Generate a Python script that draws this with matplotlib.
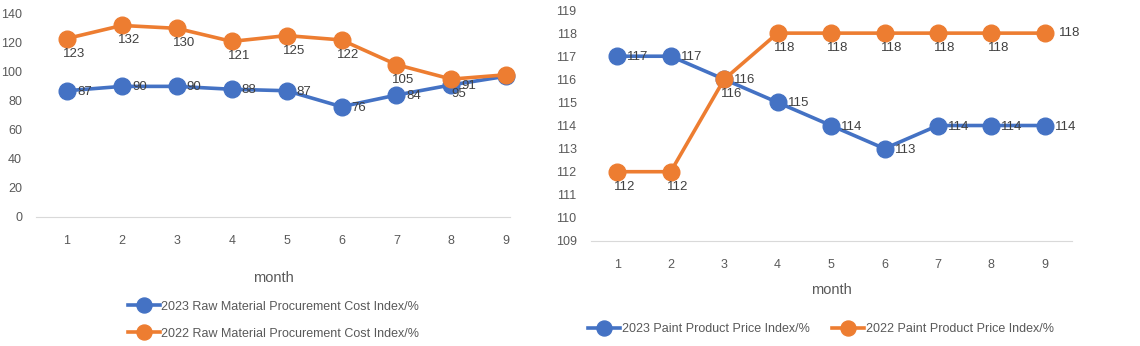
import matplotlib.pyplot as plt

plt.rcParams['font.family'] = ['Liberation Sans', 'DejaVu Sans']

months = [1, 2, 3, 4, 5, 6, 7, 8, 9]

# left chart: raw material procurement cost index
raw_2023 = [87, 90, 90, 88, 87, 76, 84, 91, 97]
raw_2022 = [123, 132, 130, 121, 125, 122, 105, 95, 98]

# right chart: paint product price index
paint_2023 = [117, 117, 116, 115, 114, 113, 114, 114, 114]
paint_2022 = [112, 112, 116, 118, 118, 118, 118, 118, 118]

blue = '#4472C4'
orange = '#ED7D31'
grey = '#595959'

fig = plt.figure(figsize=(11.4, 3.46), dpi=100)
ax1 = fig.add_axes([0.0316, 0.373, 0.4158, 0.587])
ax2 = fig.add_axes([0.518, 0.3035, 0.422, 0.6675])


def style(ax):
    for s in ['top', 'right', 'left']:
        ax.spines[s].set_visible(False)
    ax.spines['bottom'].set_color('#D9D9D9')
    ax.tick_params(length=0, labelsize=9, colors=grey)
    ax.tick_params(axis='y', pad=10)
    ax.tick_params(axis='x', pad=13)
    ax.set_xticks(months)
    ax.set_xlabel('month', fontsize=10.5, color=grey)


def draw(ax, y, color, label):
    return ax.plot(months, y, color=color, lw=2.6, marker='o', ms=12,
                   clip_on=False, label=label, zorder=3)[0]


# left
l1 = draw(ax1, raw_2023, blue, '2023 Raw Material Procurement Cost Index/%')
l2 = draw(ax1, raw_2022, orange, '2022 Raw Material Procurement Cost Index/%')
style(ax1)
ax1.set_xlim(0.435, 9.07)
ax1.set_ylim(0, 140)
ax1.set_yticks(range(0, 141, 20))
ax1.xaxis.labelpad = 17.5
for m, v in zip(months[:-1], raw_2023[:-1]):
    ax1.annotate(str(v), (m, v), xytext=(10, -1), textcoords='offset pixels',
                 ha='left', va='center', fontsize=9.5, color='#404040', zorder=4)
for m, v in zip(months[:-1], raw_2022[:-1]):
    ax1.annotate(str(v), (m, v), xytext=(7, -15), textcoords='offset pixels',
                 ha='center', va='center', fontsize=9.5, color='#404040', zorder=4)
fig.legend(handles=[l1, l2], loc='center', bbox_to_anchor=(0.24, 0.075),
           ncol=1, frameon=False, fontsize=9, labelcolor=grey,
           handlelength=2.6, handletextpad=0.1, labelspacing=1.2, markerscale=0.9)

# right
r1 = draw(ax2, paint_2023, blue, '2023 Paint Product Price Index/%')
r2 = draw(ax2, paint_2022, orange, '2022 Paint Product Price Index/%')
style(ax2)
ax2.set_xlim(0.5, 9.5)
ax2.set_ylim(109, 119)
ax2.set_yticks(range(109, 120))
ax2.xaxis.labelpad = 8.5
for m, v in zip(months, paint_2023):
    ax2.annotate(str(v), (m, v), xytext=(10, -1), textcoords='offset pixels',
                 ha='left', va='center', fontsize=9.5, color='#404040', zorder=4)
for m, v in zip(months, paint_2022):
    if m == 9:
        ax2.annotate(str(v), (m, v), xytext=(14, 0), textcoords='offset pixels',
                     ha='left', va='center', fontsize=9.5, color='#404040', zorder=4)
    else:
        ax2.annotate(str(v), (m, v), xytext=(7, -15), textcoords='offset pixels',
                     ha='center', va='center', fontsize=9.5, color='#404040', zorder=4)
fig.legend(handles=[r1, r2], loc='center', bbox_to_anchor=(0.72, 0.049),
           ncol=2, frameon=False, fontsize=9, labelcolor=grey,
           handlelength=2.6, handletextpad=0.1, columnspacing=1.8, markerscale=0.9)

fig.savefig('out.png', dpi=100)
